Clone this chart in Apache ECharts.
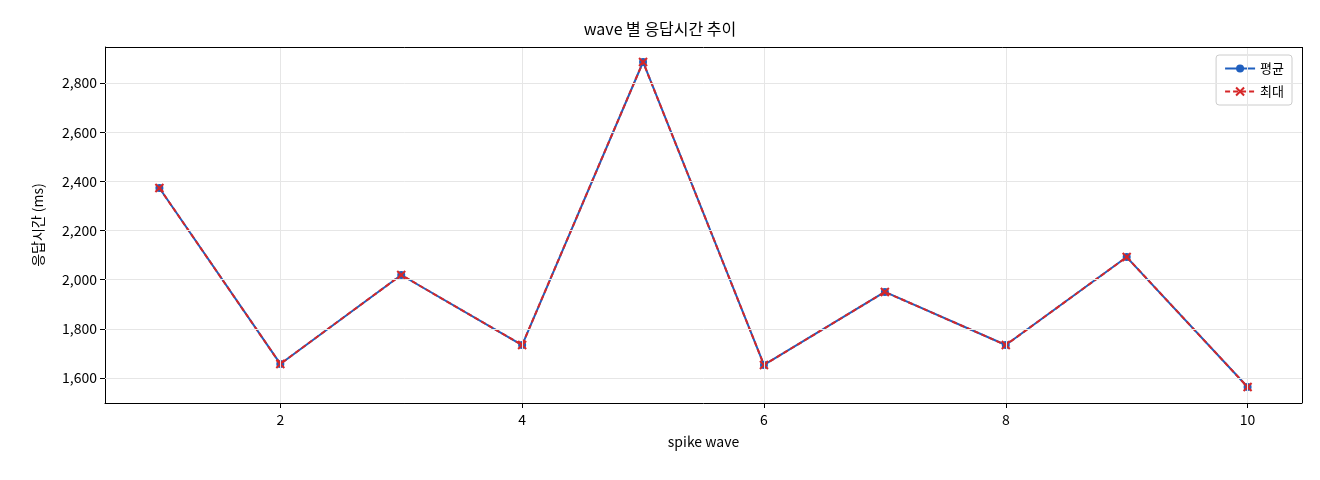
<!DOCTYPE html>
<html><head><meta charset="utf-8">
<script src="https://cdn.jsdelivr.net/npm/echarts@6/dist/echarts.min.js"></script>
<style>html,body{margin:0;background:#fff}#c{width:1320px;height:480px}</style>
</head><body><div id="c"></div>
<script>
const waves = [1,2,3,4,5,6,7,8,9,10];
const avgValues = [2373,1657,2019,1734,2886,1653,1950,1734,2092,1563];
const maxValues = [2373,1657,2019,1734,2886,1653,1950,1734,2092,1563];
const xTicks = [2,4,6,8,10];
const yTicks = [1600,1800,2000,2200,2400,2600,2800];
const F = '"Noto Sans CJK KR", "DejaVu Sans", sans-serif';
const chart = echarts.init(document.getElementById('c'));
const gridLines = xTicks.map(v=>({xAxis:v})).concat(yTicks.map(v=>({yAxis:v})));
chart.setOption({
  animation:false,
  title:{text:'wave 별 응답시간 추이',left:'center',top:16,textStyle:{fontFamily:F,fontSize:16,fontWeight:'normal',color:'#000'}},
  legend:{right:28,top:55,orient:'vertical',itemWidth:30,itemHeight:10,itemGap:10,
    backgroundColor:'#fff',borderColor:'#ccc',borderWidth:1,borderRadius:3,padding:[7,8],
    textStyle:{fontFamily:F,fontSize:13,color:'#000'}},
  grid:{left:105,right:18,top:47,bottom:77},
  xAxis:{type:'value',min:0.55,max:10.45,name:'spike wave',nameLocation:'middle',nameGap:32,
    nameTextStyle:{fontFamily:F,fontSize:14,color:'#000'},
    axisLine:{show:true,onZero:false,lineStyle:{color:'#000'}},
    axisTick:{customValues:xTicks,lineStyle:{color:'#000'}},
    axisLabel:{customValues:xTicks,fontFamily:F,fontSize:14,color:'#000',margin:10},
    splitLine:{show:false}},
  yAxis:{type:'value',min:1498,max:2947,name:'응답시간 (ms)',nameLocation:'middle',nameGap:60,
    nameTextStyle:{fontFamily:F,fontSize:14,color:'#000'},
    axisLine:{show:true,lineStyle:{color:'#000'}},
    axisTick:{show:true,customValues:yTicks,lineStyle:{color:'#000'}},
    axisLabel:{customValues:yTicks,fontFamily:F,fontSize:14,color:'#000'},
    splitLine:{show:false}},
  series:[
    {name:'평균',type:'line',data:waves.map((w,i)=>[w,avgValues[i]]),symbol:'circle',symbolSize:8,
     lineStyle:{color:'#1f5fbf',width:2},itemStyle:{color:'#1f5fbf'},z:2,
     markLine:{silent:true,symbol:'none',label:{show:false},lineStyle:{color:'#e6e6e6',type:'solid',width:1},data:gridLines}},
    {name:'최대',type:'line',data:waves.map((w,i)=>[w,maxValues[i]]),
     symbol:'path://M0,0L10,10M10,0L0,10',symbolSize:8,
     lineStyle:{color:'#d62728',width:2,type:[5,3]},itemStyle:{color:'#d62728',borderColor:'#d62728',borderWidth:2},z:3},
    {type:'line',data:[],markLine:{silent:true,symbol:'none',label:{show:false},lineStyle:{color:'#000',type:'solid',width:1},
      data:[{yAxis:2947},{xAxis:10.45}]}}
  ]
});
</script></body></html>
